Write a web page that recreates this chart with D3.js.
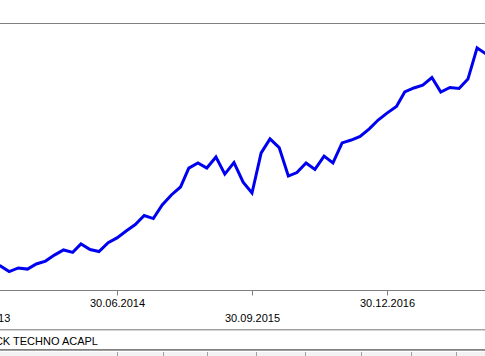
<!DOCTYPE html>
<html>
<head>
<meta charset="utf-8">
<script src="https://cdn.jsdelivr.net/npm/d3@7"></script>
<style>
  html, body { margin: 0; padding: 0; background: #fff; overflow: hidden; }
  svg { display: block; }
  text { font-family: "Liberation Sans", Arial, sans-serif; font-size: 11px; fill: #000; }
</style>
</head>
<body>
<div id="chart"></div>
<script>
// ---- data ----
const dates = [
  "2013-04-30","2013-05-31","2013-06-30","2013-07-31","2013-08-31","2013-09-30","2013-10-31","2013-11-30","2013-12-31",
  "2014-01-31","2014-02-28","2014-03-31","2014-04-30","2014-05-31","2014-06-30","2014-07-31","2014-08-31","2014-09-30","2014-10-31","2014-11-30","2014-12-31",
  "2015-01-31","2015-02-28","2015-03-31","2015-04-30","2015-05-31","2015-06-30","2015-07-31","2015-08-31","2015-09-30","2015-10-31","2015-11-30","2015-12-31",
  "2016-01-31","2016-02-29","2016-03-31","2016-04-30","2016-05-31","2016-06-30","2016-07-31","2016-08-31","2016-09-30","2016-10-31","2016-11-30","2016-12-30",
  "2017-01-31","2017-02-28","2017-03-31","2017-04-30","2017-05-31","2017-06-30","2017-07-31","2017-08-31","2017-09-30","2017-10-31","2017-11-30"
];
const values = [
  92.1, 90.8, 88.3, 89.9, 89.4, 91.7, 93.0, 95.7, 98.0,
  96.9, 100.7, 98.2, 97.3, 101.3, 103.4, 106.5, 109.4, 113.5, 112.1, 118.2, 122.7,
  126.3, 134.8, 137.1, 134.8, 139.8, 132.1, 137.3, 128.5, 123.6, 141.6, 147.9, 144.0,
  131.2, 132.8, 137.1, 134.2, 140.2, 137.1, 146.1, 147.4, 149.0, 152.4, 156.4, 159.5,
  162.5, 169.0, 170.8, 172.1, 175.5, 169.0, 171.0, 170.6, 174.8, 188.8, 186.1
];
const tickDates = ["2013-03-31", "2014-06-30", "2015-09-30", "2016-12-30"];
const seriesName = "STOCK TECHNO ACAPL";
const stripDividers = [117, 163, 207, 256, 305, 361, 411, 456];

// ---- layout ----
const W = 485, H = 356;
const parse = d3.utcParse("%Y-%m-%d");
const fmt = d3.utcFormat("%d.%m.%Y");
const data = dates.map((d, i) => ({ date: parse(d), value: values[i] }));

const svg = d3.select("#chart").append("svg").attr("width", W).attr("height", H);

const t0 = parse("2014-06-30"), t1 = parse("2015-09-30");
const x = d3.scaleUtc().domain([t0, t1]).range([117, 252]);
const y = d3.scaleLinear().domain([80, 200]).range([290, 23]);

// top border
svg.append("line").attr("x1", 0).attr("x2", W).attr("y1", 23.5).attr("y2", 23.5)
  .attr("stroke", "#7f7f7f").attr("stroke-width", 1);

// x axis
const axis = d3.axisBottom(x)
  .tickValues(tickDates.map(parse))
  .tickSize(5)
  .tickFormat(fmt);
const gx = svg.append("g").attr("transform", "translate(0,290.5)").call(axis);
gx.select(".domain").attr("stroke", "#7f7f7f").attr("d", `M0,0H${W}`);
gx.selectAll(".tick line").attr("stroke", "#7f7f7f");
gx.selectAll(".tick text")
  .attr("fill", "#000")
  .style("font-family", "'Liberation Sans', Arial, sans-serif")
  .style("font-size", "11px")
  .attr("dy", null)
  .attr("y", (d, i) => (i % 2 === 0 ? 31 : 16));

// line
const line = d3.line().x(d => x(d.date)).y(d => y(d.value));
svg.append("path").datum(data)
  .attr("d", line)
  .attr("fill", "none")
  .attr("stroke", "#0000f0")
  .attr("stroke-width", 3)
  .attr("stroke-linejoin", "miter");

// legend panel
svg.append("rect").attr("x", 0).attr("y", 329).attr("width", W).attr("height", 1).attr("fill", "#a0a0a0");
svg.append("rect").attr("x", 0).attr("y", 330).attr("width", W).attr("height", 1).attr("fill", "#d4d4d4");
svg.append("text").attr("x", 98).attr("y", 344.5).attr("text-anchor", "end").text(seriesName);
svg.append("rect").attr("x", 0).attr("y", 349).attr("width", W).attr("height", 1).attr("fill", "#808080");
svg.append("rect").attr("x", 0).attr("y", 350).attr("width", W).attr("height", 1).attr("fill", "#a0a0a0");
svg.append("rect").attr("x", 0).attr("y", 352).attr("width", W).attr("height", 4).attr("fill", "#f3f3f3");
svg.selectAll(".div").data(stripDividers).enter().append("rect")
  .attr("x", d => d).attr("y", 352).attr("width", 1).attr("height", 4).attr("fill", "#a0a0a0");
</script>
</body>
</html>
